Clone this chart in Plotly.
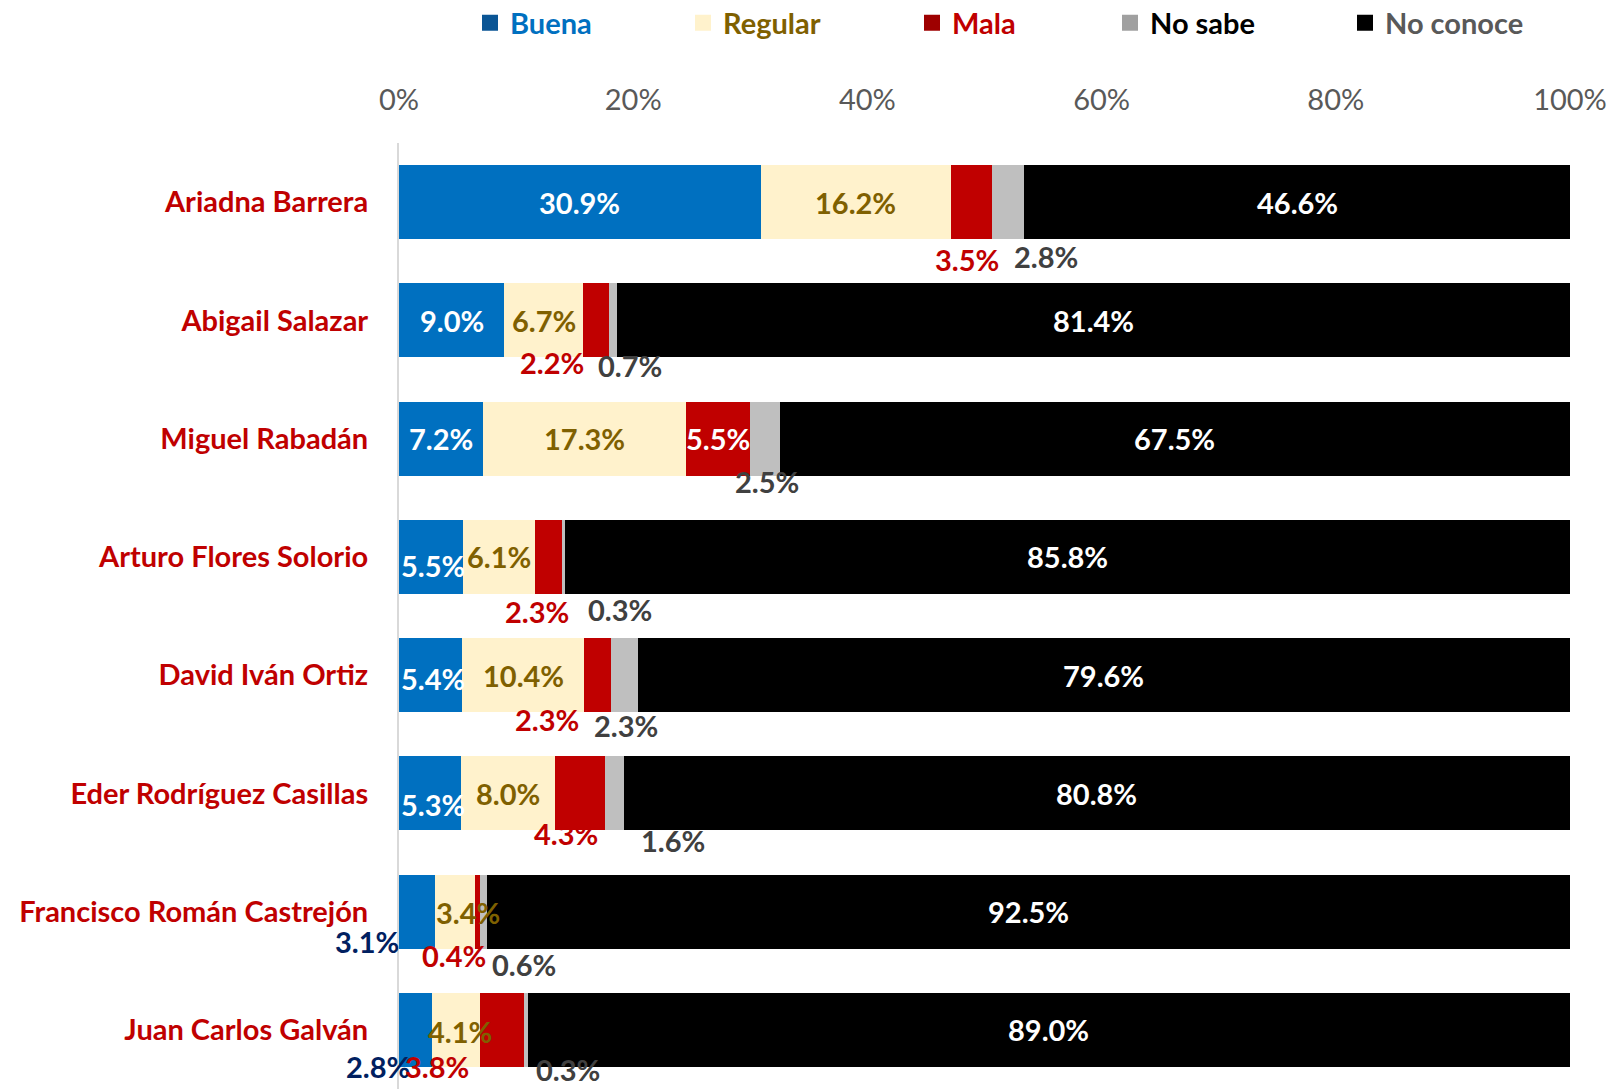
import plotly.graph_objects as go

# ---------------- data ----------------
candidates = ["Ariadna Barrera", "Abigail Salazar", "Miguel Rabadán", "Arturo Flores Solorio",
              "David Iván Ortiz", "Eder Rodríguez Casillas", "Francisco Román Castrejón",
              "Juan Carlos Galván"]
buena = [30.9, 9.0, 7.2, 5.5, 5.4, 5.3, 3.1, 2.8]
regular = [16.2, 6.7, 17.3, 6.1, 10.4, 8.0, 3.4, 4.1]
mala = [3.5, 2.2, 5.5, 2.3, 2.3, 4.3, 0.4, 3.8]
no_sabe = [2.8, 0.7, 2.5, 0.3, 2.3, 1.6, 0.6, 0.3]
no_conoce = [46.6, 81.4, 67.5, 85.8, 79.6, 80.8, 92.5, 89.0]
x_ticks = [0, 20, 40, 60, 80, 100]

series_names = ["Buena", "Regular", "Mala", "No sabe", "No conoce"]
series_values = [buena, regular, mala, no_sabe, no_conoce]

# ---------------- styles ----------------
FONT = "Lato"
FS = 29
W, H = 1610, 1089
bar_colors = ["#0070C0", "#FFF2CC", "#C00000", "#BFBFBF", "#000000"]
legend_symbol_colors = ["#0A5595", "#FFF2CC", "#9E0000", "#A0A0A0", "#000000"]
legend_text_colors = ["#0070C0", "#7F6000", "#C00000", "#000000", "#595959"]
legend_left_px = [470, 683, 912, 1110, 1345]
label_inside_colors = ["#FFFFFF", "#7F6000", "#FFFFFF", "#404040", "#FFFFFF"]
label_outside_colors = ["#002060", "#7F6000", "#C00000", "#404040", "#FFFFFF"]

# label offsets (px, dx right, dy down) from segment centre; absent = centred inside
offsets = {
    (0, 2): (-4, 56), (0, 3): (37, 53),
    (1, 2): (-43, 41), (1, 3): (17, 44),
    (2, 3): (2, 42),
    (3, 0): (2, 8), (3, 2): (-11, 53), (3, 3): (55, 51),
    (4, 0): (2, 3), (4, 2): (-49, 43), (4, 3): (2, 49),
    (5, 0): (3, 11), (5, 2): (-14, 39), (5, 3): (57, 46),
    (6, 0): (-49, 29), (6, 1): (12, 1), (6, 2): (-23, 43), (6, 3): (40, 51),
    (7, 0): (-36, 36), (7, 1): (4, 2), (7, 2): (-63, 36), (7, 3): (41, 39),
}
outside_keys = {(r, c) for (r, c), (dx, dy) in offsets.items() if abs(dy) > 20}

fig = go.Figure()
legend_layouts = {}
for i, (name, vals, col, scol, tcol, lx) in enumerate(zip(
        series_names, series_values, bar_colors, legend_symbol_colors,
        legend_text_colors, legend_left_px)):
    lname = "legend" if i == 0 else f"legend{i + 1}"
    fig.add_trace(go.Bar(
        y=candidates, x=vals, orientation="h", name=name,
        marker=dict(color=col, line=dict(width=0)),
        showlegend=False, hoverinfo="x+y",
    ))
    # legend-only entry with a larger square symbol
    fig.add_trace(go.Scatter(
        x=[None], y=[None], mode="markers", name=name, legend=lname,
        marker=dict(symbol="square", size=18, color=scol, line=dict(width=0)),
        showlegend=True, hoverinfo="skip",
    ))
    legend_layouts[lname] = dict(
        xref="container", yref="container", x=lx / W, xanchor="left",
        y=1 - 23 / H, yanchor="middle", orientation="h",
        font=dict(family=FONT, size=FS, color=tcol, weight="bold"),
        bgcolor="rgba(0,0,0,0)", itemclick=False, itemdoubleclick=False,
        itemwidth=30,
    )

annotations = []
for r, cand in enumerate(candidates):
    start = 0.0
    for c, vals in enumerate(series_values):
        v = vals[r]
        centre = start + v / 2
        start += v
        dx, dy = offsets.get((r, c), (0, 0))
        color = label_outside_colors[c] if (r, c) in outside_keys else label_inside_colors[c]
        annotations.append(dict(
            x=centre, y=cand, xref="x", yref="y",
            text=f"<b>{v:.1f}%</b>", showarrow=False,
            xshift=dx * 1.027, yshift=-dy * 1.027,
            font=dict(family=FONT, size=FS, color=color),
        ))

fig.update_layout(
    width=W, height=H,
    margin=dict(l=399, r=40, t=143, b=0, autoexpand=False),
    paper_bgcolor="white", plot_bgcolor="white",
    barmode="stack", bargap=0.374,
    font=dict(family=FONT),
    annotations=annotations,
    showlegend=True,
    xaxis=dict(
        range=[0, 100], side="top", tickvals=x_ticks, ticktext=[f"{t}%" for t in x_ticks],
        showgrid=False, zeroline=False, showline=False, ticks="",
        tickfont=dict(family=FONT, size=FS, color="#595959"),
        ticklabelstandoff=26, fixedrange=True,
    ),
    yaxis=dict(
        range=[len(candidates) - 0.5, -0.5], showgrid=False, zeroline=False,
        showline=True, linecolor="#D9D9D9", linewidth=2, ticks="",
        tickfont=dict(family=FONT, size=FS, color="#C00000", weight="bold"),
        ticklabelstandoff=23, fixedrange=True,
    ),
    **legend_layouts,
)

fig.write_html("out.html", config={"displayModeBar": False},
               post_script="document.body.style.margin='0';")
